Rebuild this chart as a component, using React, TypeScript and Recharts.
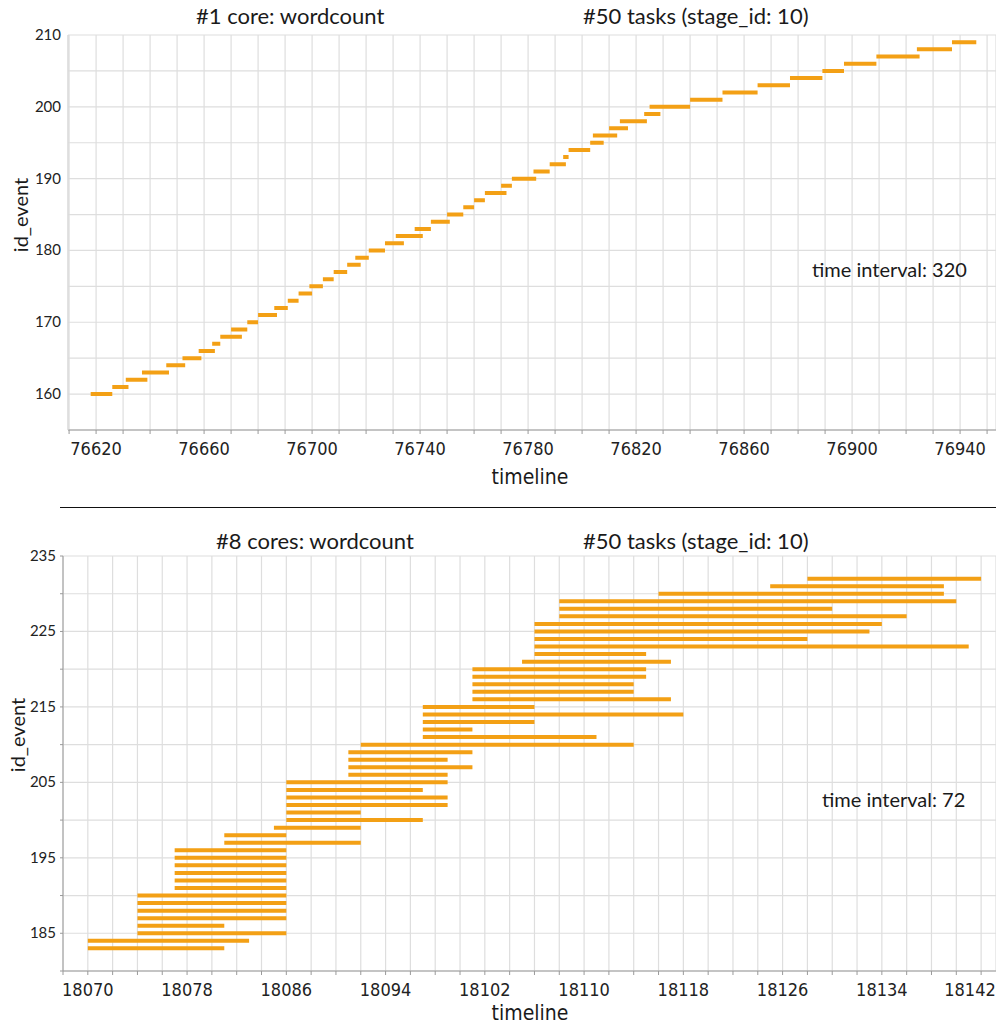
import { ComposedChart, Line, XAxis, YAxis, CartesianGrid } from 'recharts';

// ---- #1 core panel ----
const topIds = [
  160, 161, 162, 163, 164, 165, 166, 167, 168, 169,
  170, 171, 172, 173, 174, 175, 176, 177, 178, 179,
  180, 181, 182, 183, 184, 185, 186, 187, 188, 189,
  190, 191, 192, 193, 194, 195, 196, 197, 198, 199,
  200, 201, 202, 203, 204, 205, 206, 207, 208, 209,
];
const topStart = [
  76618, 76626, 76631, 76637, 76646, 76652, 76658, 76663, 76666, 76670,
  76676, 76680, 76686, 76691, 76695, 76699, 76704, 76708, 76713, 76716,
  76721, 76727, 76731, 76738, 76744, 76750, 76756, 76760, 76764, 76770,
  76774, 76782, 76788, 76793, 76795, 76803, 76804, 76810, 76814, 76823,
  76825, 76840, 76852, 76865, 76877, 76889, 76897, 76909, 76924, 76937,
];
const topEnd = [
  76626, 76632, 76639, 76647, 76653, 76659, 76664, 76666, 76674, 76676,
  76680, 76687, 76691, 76695, 76700, 76704, 76708, 76713, 76718, 76721,
  76727, 76734, 76741, 76744, 76751, 76756, 76760, 76764, 76772, 76774,
  76783, 76788, 76794, 76795, 76803, 76808, 76813, 76817, 76824, 76829,
  76840, 76852, 76865, 76877, 76889, 76897, 76909, 76925, 76937, 76946,
];
const topXTicks = [
  76610, 76620, 76630, 76640, 76650, 76660, 76670, 76680, 76690, 76700,
  76710, 76720, 76730, 76740, 76750, 76760, 76770, 76780, 76790, 76800,
  76810, 76820, 76830, 76840, 76850, 76860, 76870, 76880, 76890, 76900,
  76910, 76920, 76930, 76940, 76950,
];
const topXLabels = [76620, 76660, 76700, 76740, 76780, 76820, 76860, 76900, 76940];
const topYTicks = [155, 160, 165, 170, 175, 180, 185, 190, 195, 200, 205, 210];
const topYLabels = [160, 170, 180, 190, 200, 210];

// ---- #8 cores panel ----
const botIds = [
  183, 184, 185, 186, 187, 188, 189, 190, 191, 192,
  193, 194, 195, 196, 197, 198, 199, 200, 201, 202,
  203, 204, 205, 206, 207, 208, 209, 210, 211, 212,
  213, 214, 215, 216, 217, 218, 219, 220, 221, 222,
  223, 224, 225, 226, 227, 228, 229, 230, 231, 232,
];
const botStart = [
  18070, 18070, 18074, 18074, 18074, 18074, 18074, 18074, 18077, 18077,
  18077, 18077, 18077, 18077, 18081, 18081, 18085, 18086, 18086, 18086,
  18086, 18086, 18086, 18091, 18091, 18091, 18091, 18092, 18097, 18097,
  18097, 18097, 18097, 18101, 18101, 18101, 18101, 18101, 18105, 18106,
  18106, 18106, 18106, 18106, 18108, 18108, 18108, 18116, 18125, 18128,
];
const botEnd = [
  18081, 18083, 18086, 18081, 18086, 18086, 18086, 18086, 18086, 18086,
  18086, 18086, 18086, 18086, 18092, 18086, 18092, 18097, 18092, 18099,
  18099, 18097, 18099, 18099, 18101, 18099, 18101, 18114, 18111, 18101,
  18106, 18118, 18106, 18117, 18114, 18114, 18115, 18115, 18117, 18115,
  18141, 18128, 18133, 18134, 18136, 18130, 18140, 18139, 18139, 18142,
];
const botXTicks = [
  18068, 18070, 18072, 18074, 18076, 18078, 18080, 18082, 18084, 18086,
  18088, 18090, 18092, 18094, 18096, 18098, 18100, 18102, 18104, 18106,
  18108, 18110, 18112, 18114, 18116, 18118, 18120, 18122, 18124, 18126,
  18128, 18130, 18132, 18134, 18136, 18138, 18140, 18142,
];
const botXLabels = [18070, 18078, 18086, 18094, 18102, 18110, 18118, 18126, 18134, 18142];
const botYTicks = [180, 185, 190, 195, 200, 205, 210, 215, 220, 225, 230, 235];
const botYLabels = [185, 195, 205, 215, 225, 235];

const ORANGE = '#F3A015';
const GRID = '#dedede';
const NARROW = '"Liberation Sans Narrow", "DejaVu Sans Condensed", "Arial Narrow", sans-serif';
const SANS = 'Lato, "Open Sans", sans-serif';

interface Seg {
  t: number;
  id: number | null;
}

// each task -> start point, end point, then a null to break the line
function toSegments(ids: number[], starts: number[], ends: number[]): Seg[] {
  const pts: Seg[] = [];
  ids.forEach((id, i) => {
    pts.push({ t: starts[i], id });
    pts.push({ t: ends[i], id });
    pts.push({ t: ends[i], id: null });
  });
  return pts;
}

function makeXTick(labels: number[]) {
  return function XTick(props: any) {
    const { x, y, payload } = props;
    if (!labels.includes(payload.value)) return <g />;
    // keep the last label inside the page edge
    const cx = Math.min(x, 970);
    return (
      <text x={cx} y={y + 19} textAnchor="middle" fontSize={18} fontFamily={NARROW} fill="#222">
        {payload.value}
      </text>
    );
  };
}

function makeYTick(labels: number[]) {
  return function YTick(props: any) {
    const { x, y, payload } = props;
    if (!labels.includes(payload.value)) return <g />;
    return (
      <text x={x - 2} y={y + 5} textAnchor="end" fontSize={15} fontFamily={SANS} fill="#222">
        {payload.value}
      </text>
    );
  };
}

interface PanelProps {
  data: Seg[];
  height: number;
  margin: { top: number; right: number; bottom: number; left: number };
  yWidth: number;
  xDomain: [number, number];
  yDomain: [number, number];
  xTicks: number[];
  xLabels: number[];
  yTicks: number[];
  yLabels: number[];
  yTickLine: boolean;
}

function Panel(p: PanelProps) {
  return (
    <ComposedChart width={996} height={p.height} data={p.data} margin={p.margin}>
      <CartesianGrid stroke={GRID} strokeWidth={1.2} />
      <XAxis
        type="number"
        dataKey="t"
        domain={p.xDomain}
        ticks={p.xTicks}
        allowDataOverflow
        interval={0}
        height={30}
        stroke="#9a9a9a"
        tickSize={4}
        tick={makeXTick(p.xLabels)}
      />
      <YAxis
        type="number"
        dataKey="id"
        domain={p.yDomain}
        ticks={p.yTicks}
        allowDataOverflow
        interval={0}
        width={p.yWidth}
        stroke={p.yTickLine ? '#9a9a9a' : '#d8d8d8'}
        tickLine={p.yTickLine}
        tickSize={3}
        tick={makeYTick(p.yLabels)}
      />
      <Line
        type="linear"
        dataKey="id"
        stroke={ORANGE}
        strokeWidth={4}
        strokeLinecap="butt"
        dot={false}
        activeDot={false}
        connectNulls={false}
        isAnimationActive={false}
      />
    </ComposedChart>
  );
}

const abs = (left: number, top: number, extra: React.CSSProperties = {}): React.CSSProperties => ({
  position: 'absolute',
  left,
  top,
  whiteSpace: 'nowrap',
  color: '#1a1a1a',
  ...extra,
});

export default function App() {
  const topData = toSegments(topIds, topStart, topEnd);
  const botData = toSegments(botIds, botStart, botEnd);
  return (
    <div style={{ position: 'fixed', left: 0, top: 0, width: 996, height: 1026, background: '#fff', overflow: 'hidden' }}>
      <div style={abs(0, 0)}>
        <Panel
          data={topData}
          height={500}
          margin={{ top: 35, right: 0, bottom: 40, left: 0 }}
          yWidth={68}
          xDomain={[76609.6, 76953.3]}
          yDomain={[155, 210]}
          xTicks={topXTicks}
          xLabels={topXLabels}
          yTicks={topYTicks}
          yLabels={topYLabels}
          yTickLine={false}
        />
      </div>
      <div style={abs(0, 520)}>
        <Panel
          data={botData}
          height={506}
          margin={{ top: 36, right: 0, bottom: 25, left: 0 }}
          yWidth={63}
          xDomain={[18068, 18143.2]}
          yDomain={[180, 235]}
          xTicks={botXTicks}
          xLabels={botXLabels}
          yTicks={botYTicks}
          yLabels={botYLabels}
          yTickLine={true}
        />
      </div>

      {/* titles */}
      <div style={abs(196, 2, { fontFamily: SANS, fontSize: 22 })}>#1 core: wordcount</div>
      <div style={abs(583, 2, { fontFamily: SANS, fontSize: 22 })}>#50 tasks (stage_id: 10)</div>
      <div style={abs(216, 527, { fontFamily: SANS, fontSize: 22 })}>#8 cores: wordcount</div>
      <div style={abs(583, 527, { fontFamily: SANS, fontSize: 22 })}>#50 tasks (stage_id: 10)</div>

      {/* annotations */}
      <div style={abs(812, 257, { fontFamily: SANS, fontSize: 20 })}>time interval: 320</div>
      <div style={abs(822, 787, { fontFamily: SANS, fontSize: 20 })}>time interval: 72</div>

      {/* axis names */}
      <div style={abs(530, 477, { fontFamily: NARROW, fontSize: 21, transform: 'translate(-50%, -50%)' })}>timeline</div>
      <div style={abs(530, 1013, { fontFamily: NARROW, fontSize: 21, transform: 'translate(-50%, -50%)' })}>timeline</div>
      <div style={abs(20, 215, { fontFamily: SANS, fontSize: 20, transform: 'translate(-50%, -50%) rotate(-90deg)' })}>id_event</div>
      <div style={abs(17, 735, { fontFamily: SANS, fontSize: 20, transform: 'translate(-50%, -50%) rotate(-90deg)' })}>id_event</div>

      {/* divider between panels */}
      <div style={{ position: 'absolute', left: 60, top: 507, width: 936, height: 1, background: '#111' }} />
    </div>
  );
}
